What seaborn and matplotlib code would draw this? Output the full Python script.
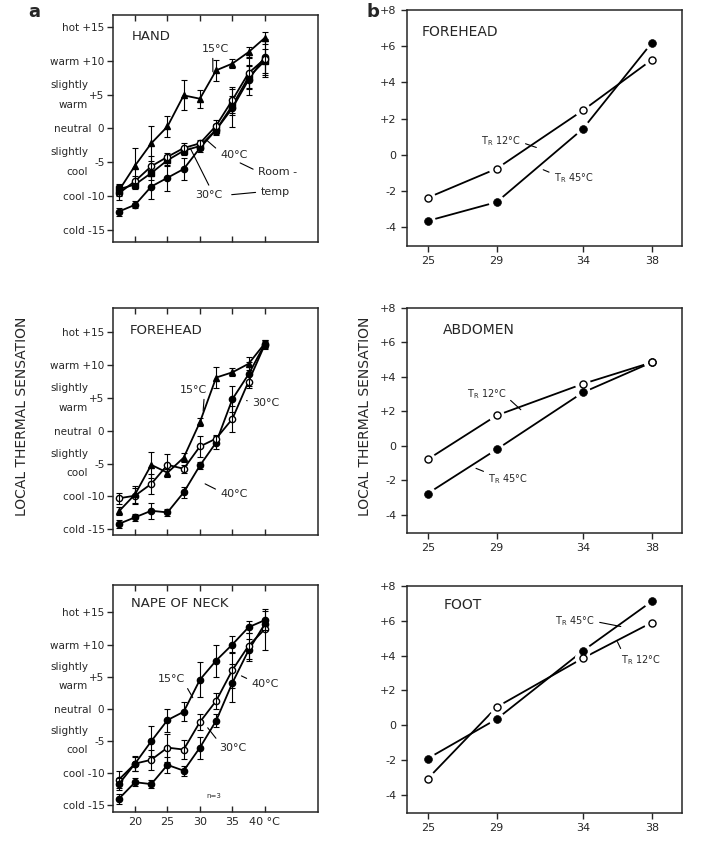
import seaborn as sns
from matplotlib import pyplot as plt

sns.set_style('ticks')
plt.rcParams['font.family'] = ['DejaVu Sans']
plt.rcParams['mathtext.default'] = 'regular'

# painel a: temperatura local (°C)
temp_a = [17.5, 20, 22.5, 25, 27.5, 30, 32.5, 35, 37.5, 40]

# HAND
hand_15 = [-9.2, -5.5, -2.2, 0.3, 4.9, 4.4, 8.6, 9.6, 11.3, 13.4]
hand_15_err = [0.8, 2.6, 2.6, 1.6, 2.2, 1.3, 1.6, 0.7, 0.8, 0.9]
hand_40 = [-9.6, -7.8, -5.6, -4.2, -2.9, -2.2, 0.4, 4.2, 8.2, 10.3]
hand_40_err = [1.0, 0.8, 1.5, 0.6, 0.7, 0.5, 0.8, 1.9, 2.4, 2.7]
hand_30 = [-12.3, -11.3, -8.6, -7.3, -6.0, -2.9, -0.2, 3.0, 7.2, 10.6]
hand_30_err = [0.6, 0.5, 1.8, 1.9, 1.6, 0.6, 0.6, 2.8, 2.2, 2.7]
hand_room = [-9.0, -8.3, -6.6, -4.7, -3.3, -2.6, -0.2, 3.4, 7.6, 10.0]
hand_room_err = [0.8, 0.7, 1.0, 0.8, 0.6, 0.6, 0.8, 1.4, 1.6, 1.8]

# FOREHEAD (a)
fore_15 = [-12.3, -9.7, -5.2, -6.4, -4.1, 1.3, 8.1, 8.9, 10.2, 13.3]
fore_15_err = [0.6, 1.3, 2.0, 0.6, 0.7, 0.6, 1.6, 0.6, 1.0, 0.6]
fore_30 = [-10.3, -9.9, -8.1, -5.2, -5.8, -2.4, -1.2, 1.8, 7.5, 13.1]
fore_30_err = [0.8, 1.2, 1.5, 1.7, 0.6, 1.6, 0.6, 2.0, 1.0, 0.6]
fore_40 = [-14.2, -13.2, -12.2, -12.45, -9.4, -5.3, -1.8, 4.8, 8.6, 13.2]
fore_40_err = [0.6, 0.5, 1.2, 0.5, 0.8, 0.5, 1.0, 2.0, 1.8, 0.6]

# NAPE OF NECK
nape_15 = [-11.8, -8.6, -5.1, -1.8, -0.5, 4.5, 7.5, 10.0, 12.7, 13.8]
nape_15_err = [0.9, 1.2, 2.3, 1.8, 1.5, 2.7, 2.5, 1.3, 0.9, 1.5]
nape_30 = [-11.1, -8.6, -8.0, -6.1, -6.4, -2.1, 1.2, 6.0, 9.8, 12.4]
nape_30_err = [1.3, 1.1, 1.6, 2.2, 1.5, 1.2, 1.2, 2.8, 2.0, 3.2]
nape_40 = [-14.1, -11.5, -11.8, -8.8, -9.7, -6.1, -1.9, 4.0, 9.1, 13.2]
nape_40_err = [0.8, 0.6, 0.6, 1.2, 0.8, 1.7, 1.0, 3.0, 1.7, 0.8]

# painel b: temperatura local, T_R 12°C (aberto) e T_R 45°C (cheio)
temp_b = [25, 29, 34, 38]
forehead_12 = [-2.38, -0.77, 2.45, 5.25]
forehead_45 = [-3.66, -2.62, 1.43, 6.19]
abdomen_12 = [-0.78, 1.77, 3.6, 4.85]
abdomen_45 = [-2.76, -0.2, 3.1, 4.85]
foot_12 = [-3.08, 1.04, 3.85, 5.9]
foot_45 = [-1.92, 0.35, 4.27, 7.12]

ticks_a = [-15, -10, -5, 0, 5, 10, 15]
labels_a = ['cold -15', 'cool -10', '-5', 'neutral  0', '+5', 'warm +10', 'hot +15']
ticks_b = [-4, -2, 0, 2, 4, 6, 8]
labels_b = ['-4', '-2', '0', '+2', '+4', '+6', '+8']

fig = plt.figure(figsize=(7.08, 8.49), dpi=100)


def painel_a(ax, series, ylim, titulo, rotulos, xlabels=False):
    for y, err, marker, cheio in series:
        sns.lineplot(x=temp_a, y=y, ax=ax, color='black', lw=1.3, errorbar=None,
                     marker=marker, ms=4.5, mfc='black' if cheio else 'white',
                     mec='black', mew=1)
        ax.errorbar(temp_a, y, yerr=err, fmt='none', ecolor='black',
                    elinewidth=0.8, capsize=2.2, capthick=0.8)
    ax.set_xlim(16.6, 48.2)
    ax.set_ylim(*ylim)
    ax.set_xticks([20, 25, 30, 35, 40])
    ax.set_yticks(ticks_a)
    ax.set_yticklabels(labels_a, fontsize=7.5)
    if xlabels:
        ax.set_xticklabels(['20', '25', '30', '35', '40 °C'], fontsize=8)
    else:
        ax.set_xticklabels([])
    ax.tick_params(axis='x', direction='in', length=4, top=True, width=1)
    ax.tick_params(axis='y', direction='out', length=4, width=1, pad=2)
    for s in ax.spines.values():
        s.set_linewidth(1.1)
    ax.set_xlabel('')
    ax.set_ylabel('')
    # "slightly warm" / "slightly cool"
    tr = ax.get_yaxis_transform()
    for txt, yy, dx in [('slightly', 6.5, -18), ('warm', 3.5, -18),
                        ('slightly', -3.5, -18), ('cool', -6.5, -18)]:
        ax.annotate(txt, xy=(0, yy), xycoords=tr, xytext=(dx, 0),
                    textcoords='offset points', ha='right', va='center', fontsize=7.5)
    ax.text(titulo[1], titulo[2], titulo[0], fontsize=9.5, ha='left', va='center')
    for txt, pos, alvo, rel in rotulos:
        ax.annotate(txt, xy=alvo, xytext=pos, ha='left', va='center', fontsize=8,
                    arrowprops=dict(arrowstyle='-', color='black', lw=0.8,
                                    relpos=rel, shrinkA=1, shrinkB=0))


def painel_b(ax, y12, y45, titulo, rotulos):
    sns.lineplot(x=temp_b, y=y45, ax=ax, color='black', lw=1.3, errorbar=None)
    sns.lineplot(x=temp_b, y=y12, ax=ax, color='black', lw=1.3, errorbar=None)
    sns.scatterplot(x=temp_b + temp_b, y=y45 + y12, ax=ax, s=130, color='white',
                    edgecolor='none', zorder=3)
    sns.scatterplot(x=temp_b, y=y45, ax=ax, s=32, color='black',
                    edgecolor='black', zorder=4)
    sns.scatterplot(x=temp_b, y=y12, ax=ax, s=26, color='white',
                    edgecolor='black', linewidth=1, zorder=5)
    ax.set_xlim(23.8, 39.75)
    ax.set_ylim(-5.05, 8)
    ax.set_xticks(temp_b)
    ax.set_xticklabels([str(t) for t in temp_b], fontsize=8)
    ax.set_yticks(ticks_b)
    ax.set_yticklabels(labels_b, fontsize=8)
    ax.tick_params(direction='out', length=4, width=1)
    for s in ax.spines.values():
        s.set_linewidth(1.1)
    ax.set_xlabel('')
    ax.set_ylabel('')
    ax.text(titulo[1], titulo[2], titulo[0], fontsize=10, ha='left', va='center')
    for txt, pos, alvo, rel in rotulos:
        ax.annotate(txt, xy=alvo, xytext=pos, ha='left', va='center', fontsize=7,
                    arrowprops=dict(arrowstyle='-', color='black', lw=0.8,
                                    relpos=rel, shrinkA=1, shrinkB=0))


# coluna a
ax1 = fig.add_axes([0.1596, 0.7150, 0.2895, 0.2674])
painel_a(ax1,
         [(hand_30, hand_30_err, 'o', True), (hand_room, hand_room_err, 's', True),
          (hand_40, hand_40_err, 'o', False), (hand_15, hand_15_err, '^', True)],
         (-16.8, 16.8), ('HAND', 19.5, 13.6),
         [('15°C', (30.3, 11.8), (32.0, 8.4), (0.4, 0)),
          ('40°C', (33.1, -3.9), (31.0, -1.7), (0, 0.8)),
          ('30°C', (29.2, -9.8), (28.5, -2.9), (0.6, 1)),
          ('Room -', (38.9, -6.5), (36.2, -5.1), (0, 0.6)),
          ('temp', (39.3, -9.4), (34.9, -9.8), (0, 0.5))])

ax2 = fig.add_axes([0.1596, 0.3698, 0.2895, 0.2674])
painel_a(ax2,
         [(fore_40, fore_40_err, 'o', True), (fore_30, fore_30_err, 'o', False),
          (fore_15, fore_15_err, '^', True)],
         (-15.9, 18.7), ('FOREHEAD', 19.2, 15.2),
         [('15°C', (26.9, 6.25), (30.5, 3.0), (0.9, 0)),
          ('30°C', (38.0, 4.3), (37.2, 4.6), (0, 0.5)),
          ('40°C', (33.1, -9.7), (30.8, -8.1), (0, 0.8))])

ax3 = fig.add_axes([0.1596, 0.0436, 0.2895, 0.2674])
painel_a(ax3,
         [(nape_40, nape_40_err, 'o', True), (nape_30, nape_30_err, 'o', False),
          (nape_15, nape_15_err, 'o', True)],
         (-16.15, 19.3), ('NAPE OF NECK', 19.4, 16.4),
         [('15°C', (23.5, 4.6), (28.9, 1.7), (1, 0)),
          ('40°C', (37.9, 3.9), (36.4, 5.1), (0, 0.8)),
          ('30°C', (33.0, -6.1), (31.2, -3.0), (0, 1))],
         xlabels=True)
ax3.text(31.0, -13.7, 'n=3', fontsize=5, ha='left', va='center')

# coluna b
ax4 = fig.add_axes([0.5749, 0.7102, 0.3884, 0.278])
painel_b(ax4, forehead_12, forehead_45, ('FOREHEAD', 24.65, 6.8),
         [('$T_R$ 12°C', (28.1, 0.77), (31.3, 0.4), (1, 0.4)),
          ('$T_R$ 45°C', (32.3, -1.3), (31.7, -0.83), (0, 0.8))])

ax5 = fig.add_axes([0.5749, 0.3722, 0.3884, 0.265])
painel_b(ax5, abdomen_12, abdomen_45, ('ABDOMEN', 25.9, 6.75),
         [('$T_R$ 12°C', (27.25, 3.03), (30.4, 2.1), (1, 0.3)),
          ('$T_R$ 45°C', (28.5, -1.9), (27.8, -1.3), (0, 0.9))])

ax6 = fig.add_axes([0.5749, 0.0424, 0.3884, 0.2674])
painel_b(ax6, foot_12, foot_45, ('FOOT', 25.9, 6.9),
         [('$T_R$ 45°C', (32.4, 5.96), (36.2, 5.67), (1, 0.5)),
          ('$T_R$ 12°C', (36.2, 3.75), (36.0, 4.8), (0.05, 1))])

fig.text(0.031, 0.51, 'LOCAL THERMAL SENSATION', rotation=90, ha='center',
         va='center', fontsize=10)
fig.text(0.516, 0.51, 'LOCAL THERMAL SENSATION', rotation=90, ha='center',
         va='center', fontsize=10)
fig.text(0.048, 0.986, 'a', fontsize=13, fontweight='bold', ha='center', va='center')
fig.text(0.527, 0.986, 'b', fontsize=13, fontweight='bold', ha='center', va='center')

fig.savefig('out.png', dpi=100)
